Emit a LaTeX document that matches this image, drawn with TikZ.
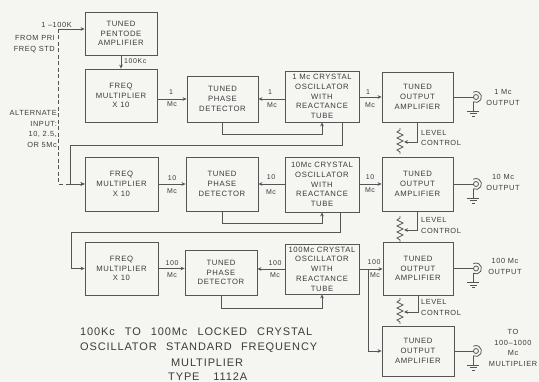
\documentclass[tikz,border=0pt]{standalone}
\usepackage{fontspec}
\setmainfont{Liberation Sans}[LetterSpace=8]
\usetikzlibrary{arrows.meta,calc}
\definecolor{ink}{RGB}{85,85,85}
\definecolor{txt}{RGB}{60,60,60}
\definecolor{paper}{RGB}{245,245,242}
\begin{document}
\begin{tikzpicture}[x=1pt,y=-1pt,
  font=\fontsize{7.7}{9.8}\selectfont,
  box/.style={draw=ink, line width=0.8pt, align=center, text=txt, inner sep=0pt},
  ln/.style={draw=ink, line width=0.8pt},
  arr/.style={draw=ink, line width=0.8pt, -{Stealth[length=4pt,width=3.6pt]}},
  lbl/.style={text=txt, inner sep=0pt, font=\fontsize{7}{8}\selectfont},
  side/.style={text=txt, inner sep=0pt, font=\fontsize{7.4}{10.5}\selectfont},
  title/.style={text=txt, inner sep=0pt, anchor=west, font=\fontsize{11}{13}\selectfont},
  jack/.pic={
    \draw[ln] (0,0) circle (2.5);
    \draw[ln] (-2.75,4.76) arc (120:-120:5.5);
    \draw[ln] (-2.75,4.76) -- (-2.75,14);
    \draw[ln] (-8.75,14) -- (3.25,14) (-6.25,16.5) -- (0.75,16.5) (-4.25,19) -- (-1.25,19);
  },
  rzig/.pic={
    \draw[ln] (0,0) -- (0,2) -- (-3,4) -- (3,7) -- (-3,10) -- (3,13) -- (-3,16) -- (3,19) -- (-3,22) -- (0,24) -- (0,26);
  }]
\fill[paper] (0,0) rectangle (539,382);
\useasboundingbox (0,0) rectangle (539,382);

% boxes
\node[box, minimum width=72pt, minimum height=43pt] (pent) at (121,33.5) {TUNED\\PENTODE\\AMPLIFIER};
\node[box, minimum width=72pt, minimum height=53pt] (fm1) at (121,95.5) {FREQ\\MULTIPLIER\\X 10};
\node[box, minimum width=71pt, minimum height=46pt] (pd1) at (222.5,99) {TUNED\\PHASE\\DETECTOR};
\node[box, minimum width=74pt, minimum height=51pt] (xo1) at (322,96.5) {1 Mc CRYSTAL\\OSCILLATOR\\WITH\\REACTANCE\\TUBE};
\node[box, minimum width=71pt, minimum height=50pt] (oa1) at (417.5,97) {TUNED\\OUTPUT\\AMPLIFIER};

\node[box, minimum width=73pt, minimum height=54pt] (fm2) at (121.5,184) {FREQ\\MULTIPLIER\\X 10};
\node[box, minimum width=72pt, minimum height=54pt] (pd2) at (222,184) {TUNED\\PHASE\\DETECTOR};
\node[box, minimum width=74pt, minimum height=55pt] (xo2) at (322,184.5) {10Mc CRYSTAL\\OSCILLATOR\\WITH\\REACTANCE\\TUBE};
\node[box, minimum width=71pt, minimum height=54pt] (oa2) at (417.5,184) {TUNED\\OUTPUT\\AMPLIFIER};

\node[box, minimum width=73pt, minimum height=53pt] (fm3) at (121.5,268.5) {FREQ\\MULTIPLIER\\X 10};
\node[box, minimum width=72pt, minimum height=45pt] (pd3) at (221,272.5) {TUNED\\PHASE\\DETECTOR};
\node[box, minimum width=74pt, minimum height=50pt] (xo3) at (322,269) {100Mc CRYSTAL\\OSCILLATOR\\WITH\\REACTANCE\\TUBE};
\node[box, minimum width=70pt, minimum height=53pt] (oa3) at (418,268.5) {TUNED\\OUTPUT\\AMPLIFIER};
\node[box, minimum width=72pt, minimum height=50pt] (oa4) at (418,351) {TUNED\\OUTPUT\\AMPLIFIER};

% input
\coordinate (in) at (58,29);
\draw[arr] (in) -- (in -| pent.west);
\draw[arr, dash pattern=on 4pt off 2.5pt] (in) |- (fm2.west);
\node[side, anchor=east] at (72,25) {1 –100K};
\node[side, anchor=east, align=right] at (55,44) {FROM PRI\\FREQ STD};
\node[side, anchor=east, align=right] at (57,129) {ALTERNATE\\INPUT:\\10, 2.5,\\OR 5Mc};
\draw[arr] (pent) -- (fm1);
\node[lbl, anchor=west] at (124,61) {100Kc};

% row 1
\draw[arr] (fm1.east |- pd1.west) -- (pd1.west);
\draw[arr] (xo1.west |- pd1.east) -- (pd1.east);
\draw[arr] (xo1.east |- oa1.west) -- (oa1.west);
\draw[arr] (pd1.south) -- ++(0,12) -| (xo1.south);
\coordinate (j1) at (70,145);
\draw[arr] ([xshift=20pt]xo1.south) |- (j1) |- (fm2.west);
\node[lbl] at (171,92) {1};   \node[lbl] at (172,104) {Mc};
\node[lbl] at (270,92) {1};   \node[lbl] at (272,105) {Mc};
\node[lbl] at (368,92) {1};   \node[lbl] at (370,105) {Mc};

% row 2
\draw[arr] (fm2.east) -- (pd2.west);
\draw[arr] (xo2.west |- pd2.east) -- (pd2.east);
\draw[arr] (xo2.east |- oa2.west) -- (oa2.west);
\draw[arr] (pd2.south) -- ++(0,12) -| (xo2.south);
\coordinate (j2) at (71,232);
\draw[arr] ([xshift=18pt]xo2.south) |- (j2) |- (fm3.west);
\node[lbl] at (172,178) {10}; \node[lbl] at (172,191) {Mc};
\node[lbl] at (271,177) {10}; \node[lbl] at (271,192) {Mc};
\node[lbl] at (370,177) {10}; \node[lbl] at (370,190) {Mc};

% row 3
\draw[arr] (fm3.east) -- (fm3.east -| pd3.west);
\draw[arr] (xo3.west) -- (xo3.west -| pd3.east);
\draw[arr] (xo3.east) -- (xo3.east -| oa3.west);
\coordinate (br) at (368,269);
\draw[arr] (br) |- (oa4.west);
\draw[arr] (pd3.south) -- ++(0,13) -| (xo3.south);
\node[lbl] at (172,263) {100}; \node[lbl] at (172,275) {Mc};
\node[lbl] at (275,263) {100}; \node[lbl] at (275,275) {Mc};
\node[lbl] at (374,262) {100}; \node[lbl] at (375,275) {Mc};

% level controls
\coordinate (w1) at (404,142);
\draw[arr] (oa1.south) |- (w1);
\pic at (400,128) {rzig};
\node[side, anchor=west, align=left] at (421,138) {LEVEL\\CONTROL};
\coordinate (w2) at (404,230);
\draw[arr] (oa2.south) |- (w2);
\pic at (400,216) {rzig};
\node[side, anchor=west, align=left] at (421,225.5) {LEVEL\\CONTROL};
\coordinate (w3) at (404,312);
\draw[arr] (oa3.south) |- (w3);
\pic at (400,298) {rzig};
\node[side, anchor=west, align=left] at (421,307.5) {LEVEL\\CONTROL};

% outputs
\coordinate (k1) at (476,97);
\coordinate (k2) at (476,184);
\coordinate (k3) at (476,268.5);
\coordinate (k4) at (476,351);
\draw[ln] (oa1.east) -- ([xshift=-2.5pt]k1);
\draw[ln] (oa2.east) -- ([xshift=-2.5pt]k2);
\draw[ln] (oa3.east) -- ([xshift=-2.5pt]k3);
\draw[ln] (oa4.east) -- ([xshift=-2.5pt]k4);
\pic at (k1) {jack};
\pic at (k2) {jack};
\pic at (k3) {jack};
\pic at (k4) {jack};
\node[side, align=center] at (503,97.5) {1 Mc\\OUTPUT};
\node[side, align=center] at (503,182.5) {10 Mc\\OUTPUT};
\node[side, align=center] at (505,266.5) {100 Mc\\OUTPUT};
\node[side, align=center, font=\fontsize{7.4}{10.8}\selectfont] at (513,348) {TO\\100–1000\\Mc\\MULTIPLIER};

% title
\node[title] at (80,332) {\makebox[232pt][s]{100Kc TO 100Mc LOCKED CRYSTAL}};
\node[title] at (80,348) {\makebox[237pt][s]{OSCILLATOR STANDARD FREQUENCY}};
\node[title] at (171,363) {\makebox[81pt][s]{MULTIPLIER}};
\node[title] at (168,377) {\makebox[79pt][s]{TYPE 1112A}};
\end{tikzpicture}
\end{document}
